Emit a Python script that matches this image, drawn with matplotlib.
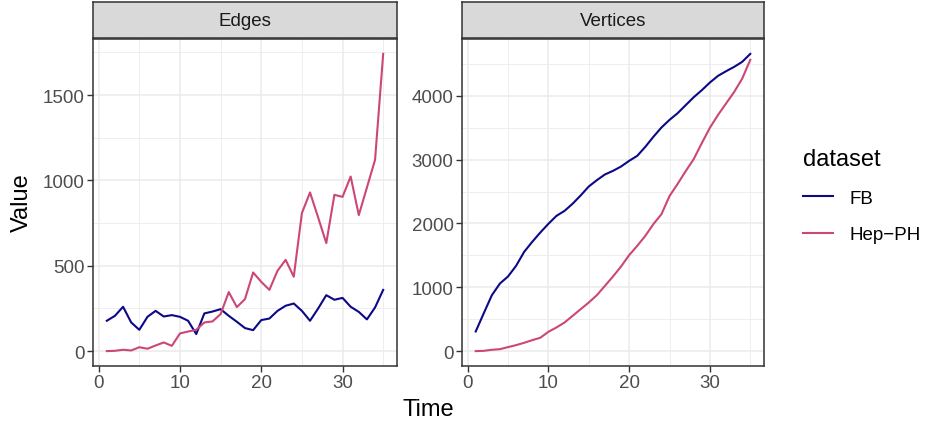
"""Edges and vertices over time for two datasets, ggplot theme_bw look."""

import matplotlib

matplotlib.use("Agg")
import matplotlib.pyplot as plt
from matplotlib.ticker import MultipleLocator

time = list(range(1, 36))

fb_edges = [178, 207, 260, 168, 125, 201, 236, 203, 211, 201, 178, 100,
            221, 232, 246, 207, 172, 135, 123, 182, 191, 236, 266, 279,
            236, 178, 250, 328, 301, 312, 260, 230, 186, 256, 359]
hep_edges = [0, 2, 8, 4, 23, 14, 33, 51, 31, 104, 115, 125,
             168, 174, 217, 346, 258, 305, 461, 406, 359, 471, 535, 436,
             809, 930, 783, 633, 916, 904, 1023, 797, 959, 1121, 1742]

fb_vertices = [308, 595, 877, 1060, 1170, 1337, 1556, 1713, 1859, 1995, 2120, 2198,
               2310, 2440, 2580, 2679, 2768, 2825, 2893, 2982, 3060, 3201, 3358, 3504,
               3624, 3728, 3854, 3979, 4089, 4209, 4313, 4386, 4454, 4533, 4658]
hep_vertices = [0, 5, 21, 31, 63, 94, 131, 172, 210, 303, 371, 449,
                553, 658, 762, 877, 1023, 1170, 1327, 1504, 1650, 1806, 1990, 2146,
                2430, 2620, 2820, 3010, 3260, 3500, 3700, 3880, 4060, 4270, 4564]

datasets = ["FB", "Hep\u2212PH"]
colors = ["#0D0887", "#CC4678"]

panels = [
    ("Edges", [fb_edges, hep_edges], 500, 250),
    ("Vertices", [fb_vertices, hep_vertices], 1000, 500),
]

plt.rcParams["font.family"] = ["Liberation Sans", "DejaVu Sans"]

W, H = 927, 427
fig = plt.figure(figsize=(W / 100, H / 100), dpi=100)

# panel boxes in pixels: left, right; shared top/bottom
boxes = [(93, 397), (462, 764)]
top, bottom = 40, 367
strip_top = 3

handles = []
for (title, series, major, minor), (x0, x1) in zip(panels, boxes):
    ax = fig.add_axes([x0 / W, 1 - bottom / H, (x1 - x0) / W, (bottom - top) / H])
    for vals, name, col in zip(series, datasets, colors):
        (ln,) = ax.plot(time, vals, color=col, lw=1.5, label=name, solid_joinstyle="round")
        if title == "Edges":
            handles.append(ln)
    ymax = max(max(s) for s in series)
    ax.set_xlim(1 - 0.05 * 34, 35 + 0.05 * 34)
    ax.set_ylim(-0.05 * ymax, 1.05 * ymax)
    ax.xaxis.set_major_locator(MultipleLocator(10))
    ax.xaxis.set_minor_locator(MultipleLocator(5))
    ax.yaxis.set_major_locator(MultipleLocator(major))
    ax.yaxis.set_minor_locator(MultipleLocator(minor))
    ax.grid(which="major", color="#EBEBEB", lw=1.1)
    ax.grid(which="minor", color="#EBEBEB", lw=0.6)
    ax.set_axisbelow(True)
    ax.tick_params(which="major", length=4, width=1, color="#333333",
                   labelcolor="#4D4D4D", labelsize=13.5, pad=2)
    ax.tick_params(which="minor", length=0)
    for sp in ax.spines.values():
        sp.set_color("#333333")
        sp.set_linewidth(1.1)

    # facet strip
    sax = fig.add_axes([x0 / W, 1 - (top - 1) / H, (x1 - x0) / W, (top - 1 - strip_top) / H])
    sax.set_facecolor("#D9D9D9")
    sax.set_xticks([])
    sax.set_yticks([])
    for sp in sax.spines.values():
        sp.set_color("#333333")
        sp.set_linewidth(1.1)
    sax.text(0.5, 0.5, title, ha="center", va="center", fontsize=13.5, color="#1A1A1A",
             transform=sax.transAxes)

fig.text(428 / W, 1 - 410 / H, "Time", ha="center", va="center", fontsize=17)
fig.text(22 / W, 1 - 203 / H, "Value", ha="center", va="center", rotation=90, fontsize=17)

leg = fig.legend(handles=handles, labels=datasets, title="dataset",
                 loc="upper left", bbox_to_anchor=(799 / W, 1 - 145 / H),
                 frameon=False, fontsize=13.5, title_fontsize=17,
                 handlelength=1.6, handletextpad=0.9, labelspacing=1.05,
                 borderaxespad=0, borderpad=0.2, alignment="left")

fig.savefig("out.png", dpi=100)
